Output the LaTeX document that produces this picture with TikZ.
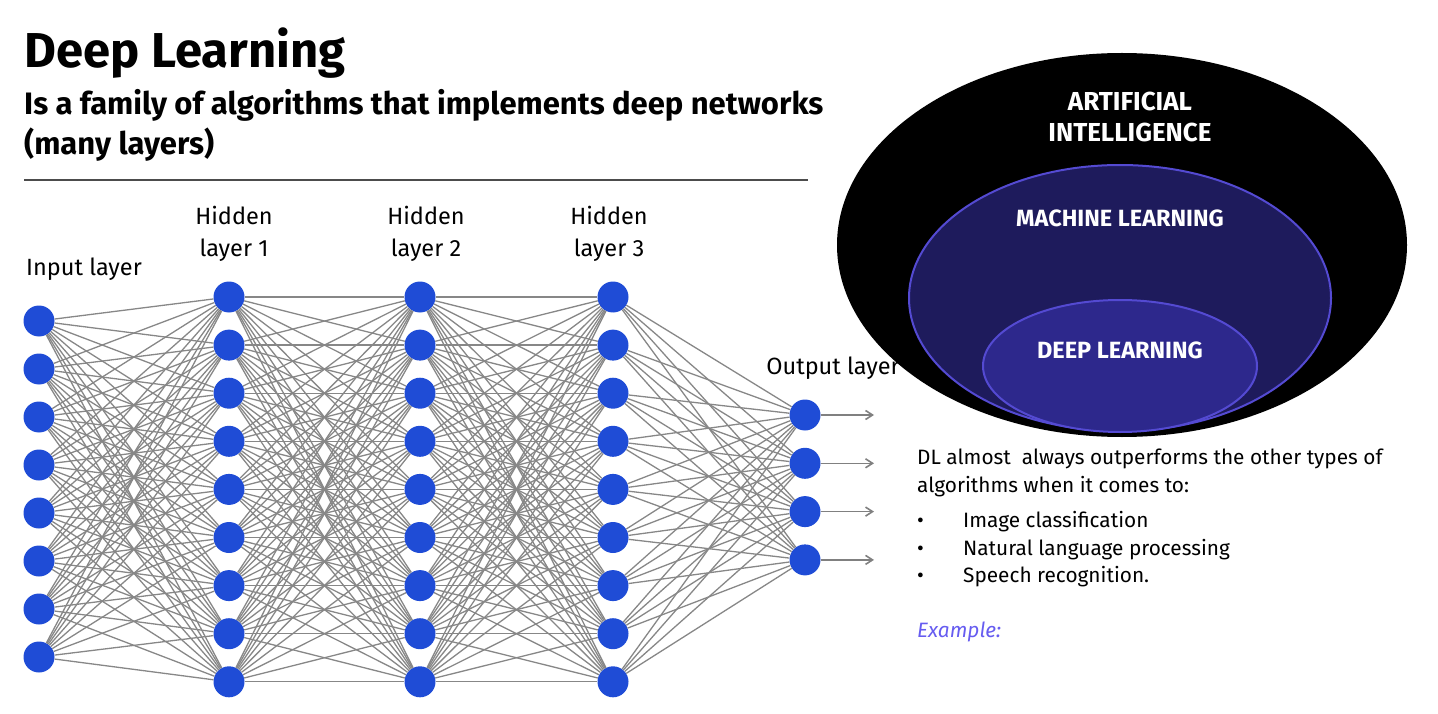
\documentclass[tikz,border=0pt]{standalone}
\usepackage{fontspec}
\setmainfont{Fira Sans}
\usetikzlibrary{arrows.meta}
\definecolor{nodeblue}{RGB}{31,76,214}
\definecolor{mlnavy}{RGB}{30,27,92}
\definecolor{dlnavy}{RGB}{45,40,140}
\definecolor{ringblue}{RGB}{84,74,210}
\definecolor{exviolet}{RGB}{102,92,240}
\tikzset{
  neuron/.style={circle,fill=nodeblue,inner sep=0pt,minimum size=31pt},
  wire/.style={draw=black!47,line width=1.3pt},
  outarrow/.style={draw=black!50,line width=1.6pt,-{Straight Barb[length=7pt,width=9pt]}},
  layerlbl/.style={font=\fontsize{23.5}{32}\selectfont,align=center},
  bodytxt/.style={anchor=base west,font=\fontsize{20.8}{24}\selectfont,inner sep=0pt},
  venntxt/.style={text=white,font=\bfseries\fontsize{23.5}{31}\selectfont,align=center},
  headtxt/.style={anchor=base west,inner sep=0pt,font=\bfseries\fontsize{31}{40}\selectfont},
}

\begin{document}
\begin{tikzpicture}[x=1pt,y=-1pt]
  \useasboundingbox (0,0) rectangle (1438,714);

  % AI / ML / DL
  \fill[black] (1122,245) ellipse [x radius=285,y radius=192];
  \draw[ringblue,line width=2pt,fill=mlnavy] (1120,298) ellipse [x radius=211,y radius=133];
  \draw[ringblue,line width=2pt,fill=dlnavy] (1120,366) ellipse [x radius=137,y radius=66];
  \node[venntxt,font=\bfseries\fontsize{26}{31}\selectfont] (ai) at (1130,117) {ARTIFICIAL\\INTELLIGENCE};
  \node[venntxt] (ml) at (1120,218) {MACHINE LEARNING};
  \node[venntxt] (dl) at (1120,350) {DEEP LEARNING};

  % heading
  \node[anchor=base west,inner sep=0pt,font=\bfseries\fontsize{49}{50}\selectfont] (title) at (24,68) {Deep Learning};
  \node[headtxt] (subtitle1) at (24,115) {Is a family of algorithms that implements deep networks};
  \node[headtxt] (subtitle2) at (24,155) {(many layers)};
  \draw[black!70,line width=1.2pt] (24,180) -- (808,180);

  % layer labels
  \node[layerlbl] (lblin) at (84,269) {Input layer};
  \node[layerlbl] (lblh1) at (234,234) {Hidden\\layer 1};
  \node[layerlbl] (lblh2) at (426,234) {Hidden\\layer 2};
  \node[layerlbl] (lblh3) at (609,234) {Hidden\\layer 3};
  \node[layerlbl] (lblout) at (833,368) {Output layer};

  % neurons
  \foreach \k in {1,...,8}
    \node[neuron] (i\k) at (39,{321+48*(\k-1)}) {};
  \foreach \k in {1,...,9} {
    \node[neuron] (a\k) at (229,{297+48.1*(\k-1)}) {};
    \node[neuron] (b\k) at (420,{297+48.1*(\k-1)}) {};
    \node[neuron] (c\k) at (613,{297+48.1*(\k-1)}) {};
  }
  \foreach \k in {1,...,4}
    \node[neuron] (o\k) at (805,{415+48.3*(\k-1)}) {};

  % fully connected wires
  \foreach \p in {1,...,8}
    \foreach \q in {1,...,9}
      \draw[wire] (i\p) -- (a\q);
  \foreach \p in {1,...,9}
    \foreach \q in {1,...,9} {
      \draw[wire] (a\p) -- (b\q);
      \draw[wire] (b\p) -- (c\q);
    }
  \foreach \p in {1,...,9}
    \foreach \q in {1,...,4}
      \draw[wire] (c\p) -- (o\q);

  % outputs
  \foreach \k in {1,...,4} {
    \coordinate (e\k) at (874,{415+48.3*(\k-1)});
    \draw[outarrow] (o\k) -- (e\k);
  }

  % notes
  \node[bodytxt] (note1) at (917,464) {DL almost\ \ always outperforms the other types of};
  \node[bodytxt] (note2) at (917,492) {algorithms when it comes to:};
  \foreach \y/\t [count=\n] in {527/Image classification, 555/Natural language processing, 582/Speech recognition.} {
    \node[bodytxt] (dot\n) at (917,\y) {\textbullet};
    \node[bodytxt] (item\n) at (963,\y) {\t};
  }
  \node[bodytxt,text=exviolet,font=\itshape\fontsize{20.8}{24}\selectfont] (example) at (917,637) {Example:};
\end{tikzpicture}
\end{document}
